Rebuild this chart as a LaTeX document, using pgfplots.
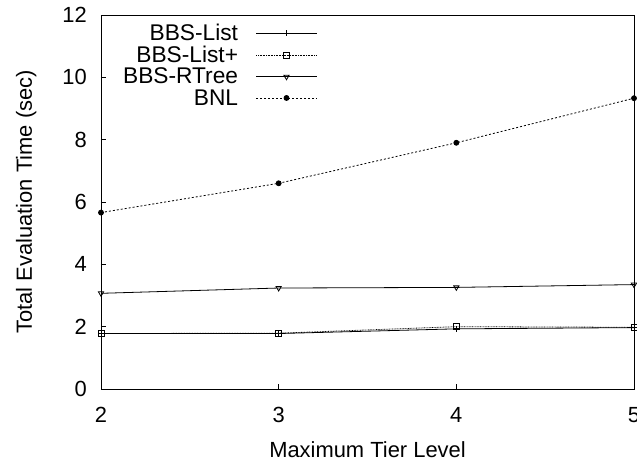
\documentclass[border=0pt]{standalone}
\usepackage{fontspec}
\setmainfont{Liberation Sans}
\usepackage{pgfplots}
\pgfplotsset{compat=1.18}
\begin{document}
\begin{tikzpicture}
\begin{axis}[
  scale only axis,
  width=533bp, height=374bp,
  xmin=2, xmax=5, ymin=0, ymax=12,
  xtick={2,3,4,5}, ytick={0,2,4,6,8,10,12},
  tick pos=left,
  tick align=inside,
  major tick length=5bp,
  axis line style={line width=0.8bp},
  every tick/.style={line width=0.8bp, black},
  /pgf/number format/assume math mode=true,
  font=\fontsize{22}{21.5}\selectfont,
  xticklabel style={anchor=base, yshift=-33bp},
  yticklabel style={anchor=east, inner sep=0pt, xshift=-14bp},
  xlabel={Maximum Tier Level},
  ylabel={Total Evaluation Time (sec)},
  every axis x label/.style={at={(axis description cs:0.5,0)}, anchor=base, yshift=-68bp},
  every axis y label/.style={at={(axis description cs:0,0.5)}, xshift=-69bp, rotate=90, anchor=base},
  legend plot pos=right,
  legend cell align=right,
  legend style={at={(axis description cs:0,1)}, anchor=north west, xshift=20bp, yshift=-7bp,
    draw=none, fill=none, row sep=0pt, column sep=16bp, inner sep=0pt,
    font=\fontsize{22.8}{21.5}\selectfont},
  legend image code/.code={\draw[mark repeat=2,mark phase=2,#1] plot coordinates {(0cm,0cm) (1.06cm,0cm) (2.12cm,0cm)};},
]
\addplot[black, line width=0.8bp, mark=+, mark size=3bp, mark options={solid}]
  coordinates {(2,1.78) (3,1.78) (4,1.93) (5,1.97)};
\addlegendentry{BBS-List}
\addplot[black, line width=0.8bp, dash pattern=on 0.8bp off 0.8bp, mark=square, mark size=3bp, mark options={solid}]
  coordinates {(2,1.78) (3,1.79) (4,2.0) (5,1.98)};
\addlegendentry{BBS-List+}
\addplot[black, line width=0.8bp, mark=triangle, mark size=3bp, mark options={solid, rotate=180}]
  coordinates {(2,3.07) (3,3.24) (4,3.26) (5,3.35)};
\addlegendentry{BBS-RTree}
\addplot[black, line width=0.8bp, dash pattern=on 2bp off 2bp, mark=*, mark size=2.5bp, mark options={solid}]
  coordinates {(2,5.66) (3,6.6) (4,7.9) (5,9.33)};
\addlegendentry{BNL}
\end{axis}
\pgfresetboundingbox
\path ([xshift=-101bp,yshift=-73bp]current axis.south west) rectangle ([xshift=3bp,yshift=15bp]current axis.north east);
\end{tikzpicture}
\end{document}
